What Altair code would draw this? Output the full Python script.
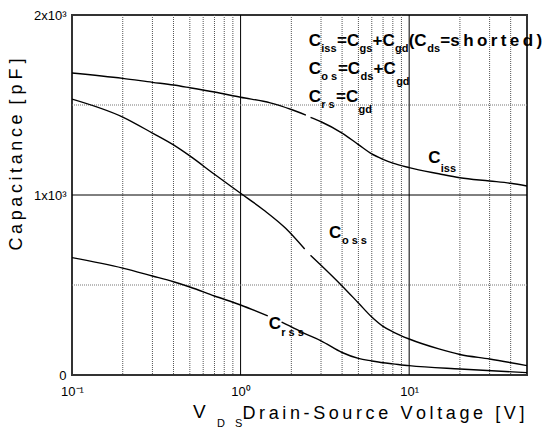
import altair as alt
import pandas as pd

# ---- data ----
ciss_v = [0.1, 0.2, 0.3, 0.4, 0.5, 0.7, 1.0, 1.5, 2.0, 2.44,
          2.6, 3, 4, 5, 6, 7, 8, 10, 15, 20, 30, 40, 50]
ciss_c = [1678, 1648, 1626, 1611, 1596, 1572, 1543, 1512, 1475, 1444,
          1431, 1407, 1344, 1280, 1228, 1198, 1177, 1152, 1118, 1096, 1078, 1065, 1050]
ciss_seg = [0] * 10 + [1] * 13

coss_v = [0.1, 0.2, 0.3, 0.4, 0.5, 0.7, 1.0, 1.37, 1.85, 2.4,
          2.6, 3, 4, 5, 6, 7, 8, 10, 15, 20, 30, 50]
coss_c = [1533, 1433, 1344, 1278, 1217, 1115, 1010, 917, 815, 700,
          665, 610, 495, 400, 322, 270, 240, 200, 145, 114, 89, 52]
coss_seg = [0] * 10 + [1] * 12

crss_v = [0.1, 0.2, 0.3, 0.4, 0.5, 0.7, 1.0, 1.45,
          1.75, 2.0, 2.37, 3, 4, 5, 6, 7, 8, 10, 20, 50]
crss_c = [652, 594, 550, 518, 489, 439, 389, 328,
          294, 268, 233, 190, 125, 92, 78, 68, 62, 52, 33, 13]
crss_seg = [0] * 8 + [1] * 12

minor_x = [0.2, 0.3, 0.4, 0.5, 0.6, 0.7, 0.8, 0.9,
           2, 3, 4, 5, 6, 7, 8, 9, 20, 30, 40]
major_x = [1, 10]
minor_y = [500, 1500]
major_y = [1000]

TS = "\u2009"   # thin space
NB = "\u00a0"   # non-breaking space
def spaced(s):
    return TS.join(s)

BIG, SUB = 17, 11
ann_text = ["C", "iss", "=C", "gs", "+C", "gd", "(C", "ds", "=", spaced("shorted)"),
            "C", "o" + NB + "s", "=C", "ds", "+C", "gd",
            "C", "r" + NB + "s", "=C", "gd",
            "C", "iss", "C", "o" + NB + "s" + NB + "s", "C", "r" + NB + "s" + NB + "s"]
ann_v = [2.54, 3.01, 3.73, 5.08, 6.06, 8.25, 9.93, 12.80, 15.30, 17.54,
         2.54, 3.01, 3.78, 5.14, 6.15, 8.37,
         2.54, 3.01, 3.68, 5.00,
         12.97, 15.40, 3.34, 3.99, 1.47, 1.74]
ann_c = [1828, 1794, 1828, 1794, 1828, 1794, 1828, 1794, 1828, 1828,
         1672, 1639, 1672, 1639, 1672, 1611,
         1517, 1483, 1517, 1456,
         1178, 1128, 761, 728, 256, 217]
ann_size = [BIG, SUB, BIG, SUB, BIG, SUB, BIG, SUB, BIG, BIG,
            BIG, SUB, BIG, SUB, BIG, SUB,
            BIG, SUB, BIG, SUB,
            BIG, SUB, BIG, SUB, BIG, SUB]

# ---- tables ----
rows = []
for name, vs, cs, ss in [("Ciss", ciss_v, ciss_c, ciss_seg),
                         ("Coss", coss_v, coss_c, coss_seg),
                         ("Crss", crss_v, crss_c, crss_seg)]:
    for v, c, s in zip(vs, cs, ss):
        rows.append({"V": v, "C": c, "key": f"{name}{s}"})
curves = pd.DataFrame(rows)
ann = pd.DataFrame({"t": ann_text, "V": ann_v, "C": ann_c, "fs": ann_size})

xs = alt.Scale(type="log", domain=[0.1, 50], nice=False)
ys = alt.Scale(domain=[0, 2000], nice=False)
FONT = "Liberation Sans"

x_title = spaced("Drain-Source" + NB + "Voltage" + NB + "[V]")
y_title = spaced("Capacitance") + NB * 2 + ("[" + NB + "p" + NB + "F" + NB + "]")

x_axis = alt.Axis(values=[0.1, 1, 10],
                  labelExpr="datum.value < 0.5 ? '10⁻¹' : (datum.value < 5 ? '10⁰' : '10¹')",
                  grid=False, ticks=False, domain=False, labelFlush=False, labelOverlap=False,
                  labelFont=FONT, labelFontSize=13, labelColor="black", labelPadding=10,
                  title=x_title,
                  titleX=170, titleY=43, titleAlign="left", titleBaseline="alphabetic",
                  titleFont=FONT, titleFontSize=18, titleFontWeight="normal", titleColor="black")
y_axis = alt.Axis(values=[0, 1000, 2000],
                  labelExpr="datum.value == 0 ? '0' : (datum.value == 1000 ? '1x10³' : '2x10³')",
                  grid=False, ticks=False, domain=False, labelFlush=False, labelOverlap=False,
                  labelFont=FONT, labelFontSize=13, labelColor="black", labelPadding=6,
                  title=y_title,
                  titleX=-56, titleY=139, titleAngle=270, titleAlign="center",
                  titleBaseline="middle",
                  titleFont=FONT, titleFontSize=18, titleFontWeight="normal", titleColor="black")

minor_v = alt.Chart(pd.DataFrame({"V": minor_x})).mark_rule(
    color="#555", strokeWidth=1, strokeDash=[1, 1]).encode(
    x=alt.X("V:Q", scale=xs, axis=x_axis))
major_v = alt.Chart(pd.DataFrame({"V": major_x})).mark_rule(
    color="black", strokeWidth=1).encode(
    x=alt.X("V:Q", scale=xs, axis=x_axis))
minor_h = alt.Chart(pd.DataFrame({"C": minor_y})).mark_rule(
    color="#777", strokeWidth=1.2, strokeDash=[1, 1]).encode(
    y=alt.Y("C:Q", scale=ys, axis=y_axis))
major_h = alt.Chart(pd.DataFrame({"C": major_y})).mark_rule(
    color="black", strokeWidth=1).encode(
    y=alt.Y("C:Q", scale=ys, axis=y_axis))

lines = alt.Chart(curves).mark_line(
    color="black", strokeWidth=1.4, interpolate="monotone", clip=True).encode(
    x=alt.X("V:Q", scale=xs, axis=x_axis),
    y=alt.Y("C:Q", scale=ys, axis=y_axis),
    detail="key:N")

labels = alt.Chart(ann).mark_text(
    align="left", baseline="alphabetic", font=FONT, fontWeight="bold", color="black").encode(
    x=alt.X("V:Q", scale=xs, axis=x_axis),
    y=alt.Y("C:Q", scale=ys, axis=y_axis),
    text="t:N",
    size=alt.Size("fs:Q", scale=None, legend=None))

v_txt = alt.Chart(pd.DataFrame({"t": ["V"]})).mark_text(
    align="left", baseline="alphabetic", font=FONT, fontSize=19, color="black").encode(
    x=alt.value(121), y=alt.value(403), text="t:N")
d_txt = alt.Chart(pd.DataFrame({"t": ["D"]})).mark_text(
    align="left", baseline="alphabetic", font=FONT, fontSize=11, color="black").encode(
    x=alt.value(145), y=alt.value(412), text="t:N")
s_txt = alt.Chart(pd.DataFrame({"t": ["S"]})).mark_text(
    align="left", baseline="alphabetic", font=FONT, fontSize=11, color="black").encode(
    x=alt.value(163), y=alt.value(412), text="t:N")

chart = alt.layer(minor_v, major_v, minor_h, major_h, lines, labels, v_txt, d_txt, s_txt).properties(
    width=455, height=360,
    autosize=alt.AutoSizeParams(type="none"),
    padding={"left": 72, "top": 15, "right": 16, "bottom": 54},
    background="white",
).configure_view(stroke="#333", strokeWidth=2)

chart.save("out.html", embed_options={"renderer": "svg", "actions": False})
